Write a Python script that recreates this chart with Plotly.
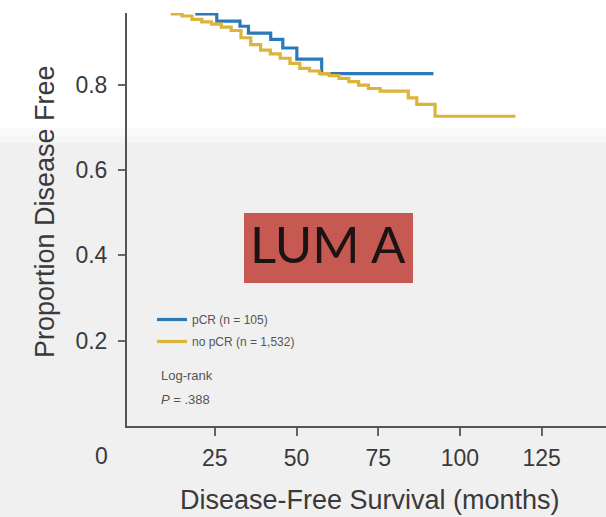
import plotly.graph_objects as go

# ---- data ----
pcr_months = [0, 8, 14, 19.5, 25.6, 32.7, 35.3, 42.1, 45.8, 50.1, 57.7, 91.9]
pcr_surv = [1.0, 0.99, 0.98, 0.966, 0.949, 0.937, 0.921, 0.906, 0.886, 0.860, 0.826, 0.826]

nopcr_months = [0, 5, 10, 12, 15, 18, 21, 24, 27, 30, 33, 36, 39, 42, 45, 48, 51, 54,
                57, 60, 63, 66, 69, 72, 75.6, 84.2, 86.8, 92.4, 117]
nopcr_surv = [1.0, 0.99, 0.975, 0.966, 0.961, 0.953, 0.947, 0.942, 0.935, 0.927, 0.910,
              0.894, 0.881, 0.872, 0.862, 0.850, 0.838, 0.832, 0.826, 0.821, 0.815, 0.807,
              0.799, 0.791, 0.785, 0.769, 0.754, 0.726, 0.726]

series_names = ["pCR (n = 105)", "no pCR (n = 1,532)"]
x_ticks = [25, 50, 75, 100, 125]
y_ticks = [0.2, 0.4, 0.6, 0.8]
y_tick_labels = ["0.2", "0.4", "0.6", "0.8"]

BLUE = "#2a7ab9"
YELLOW = "#dcb43a"
FONT = "Liberation Sans, Arial, sans-serif"

W, H = 606, 517
L, R, T, B = 127, 0, 13, 91
PW, PH = W - L - R, H - T - B


def px(X):
    return (X - L) / PW


def py(Y):
    return (H - B - Y) / PH


fig = go.Figure()
fig.add_trace(go.Scatter(x=pcr_months, y=pcr_surv, mode="lines", line_shape="hv",
                         line=dict(color=BLUE, width=3.2), name=series_names[0],
                         legendgroup="a"))
fig.add_trace(go.Scatter(x=nopcr_months, y=nopcr_surv, mode="lines", line_shape="hv",
                         line=dict(color=YELLOW, width=3.2), name=series_names[1],
                         legendgroup="b"))

shapes = [
    # background: white top fading to light grey
    dict(type="rect", xref="paper", yref="paper", x0=px(0), x1=px(W), y0=py(128), y1=py(0),
         fillcolor="#ffffff", line_width=0, layer="below"),
    dict(type="rect", xref="paper", yref="paper", x0=px(0), x1=px(W), y0=py(136), y1=py(128),
         fillcolor="#fafafa", line_width=0, layer="below"),
    dict(type="rect", xref="paper", yref="paper", x0=px(0), x1=px(W), y0=py(143), y1=py(136),
         fillcolor="#f6f6f6", line_width=0, layer="below"),
    # LUM A box
    dict(type="rect", xref="paper", yref="paper", x0=px(244), x1=px(413), y0=py(283), y1=py(213),
         fillcolor="#c65a53", line_width=0, layer="above"),
]

annotations = [
    dict(text="LUM A", xref="paper", yref="paper", x=px(328), y=py(243), showarrow=False,
         font=dict(family="Lato, Open Sans, sans-serif", size=51, color="#1c1414")),
    dict(text="Log-rank", xref="paper", yref="paper", x=px(159), y=py(375), xanchor="left",
         yanchor="middle", showarrow=False, font=dict(family=FONT, size=13, color="#555")),
    dict(text="<i>P</i> = .388", xref="paper", yref="paper", x=px(159), y=py(399),
         xanchor="left", yanchor="middle", showarrow=False,
         font=dict(family=FONT, size=13, color="#555")),
    dict(text="0", xref="paper", yref="paper", x=px(101), y=py(456), showarrow=False,
         xanchor="center", yanchor="middle", font=dict(family=FONT, size=23, color="#3a3a3a")),
    dict(text="Proportion Disease Free", xref="paper", yref="paper", x=px(45), y=py(212),
         textangle=-90, showarrow=False, xanchor="center", yanchor="middle",
         font=dict(family=FONT, size=27, color="#3a3a3a")),
    dict(text="Disease-Free Survival (months)", xref="paper", yref="paper", x=px(370),
         y=py(500), showarrow=False, xanchor="center", yanchor="middle",
         font=dict(family=FONT, size=27, color="#3a3a3a")),
]

fig.update_layout(
    width=W, height=H,
    margin=dict(l=L, r=R, t=T, b=B, pad=0),
    paper_bgcolor="#f0f0f0",
    plot_bgcolor="rgba(0,0,0,0)",
    shapes=shapes,
    annotations=annotations,
    showlegend=True,
    legend=dict(x=px(152), y=py(305), xanchor="left", yanchor="top",
                bgcolor="rgba(0,0,0,0)", font=dict(family=FONT, size=12, color="#555"),
                traceorder="grouped", tracegroupgap=3, itemwidth=30),
    xaxis=dict(range=[-1.87, 144.7], tickvals=x_ticks, ticks="outside", ticklen=8,
               tickcolor="#666", tickwidth=1.5, showline=True, linecolor="#555", linewidth=2,
               showgrid=False, zeroline=False, ticklabelstandoff=2,
               tickfont=dict(family=FONT, size=23, color="#3a3a3a")),
    yaxis=dict(range=[0, 0.968], tickvals=y_ticks, ticktext=y_tick_labels, ticks="outside",
               ticklen=7, tickcolor="#666", tickwidth=1.5, showline=True, linecolor="#555",
               linewidth=2, showgrid=False, zeroline=False, ticklabelstandoff=6,
               tickfont=dict(family=FONT, size=23, color="#3a3a3a")),
)

fig.write_html("out.html")
